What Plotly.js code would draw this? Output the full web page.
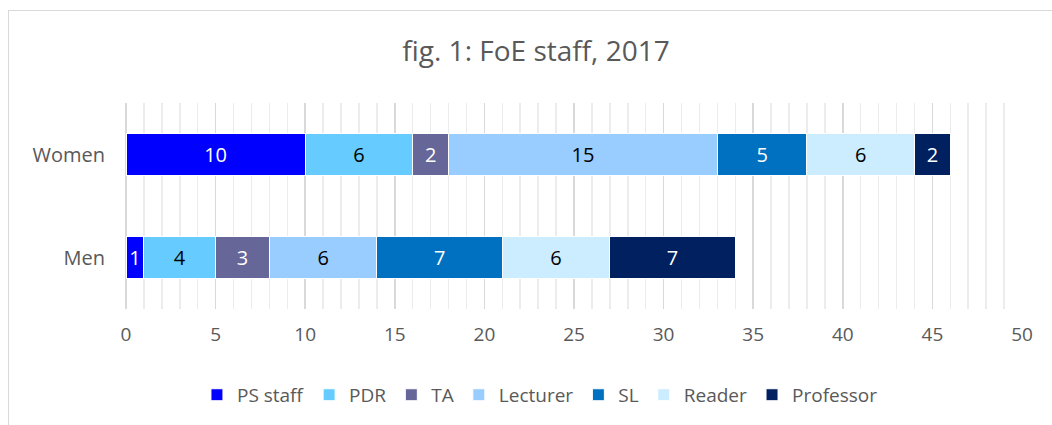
<!DOCTYPE html>
<html>
<head>
<meta charset="utf-8">
<script src="https://cdn.plot.ly/plotly-3.0.1.min.js"></script>
<style>
html,body{margin:0;padding:0;background:#fff;}
#wrap{position:relative;width:1052px;height:425px;overflow:hidden;}
#frame{position:absolute;left:8px;top:10px;width:1100px;height:500px;border-left:1.5px solid #d9d9d9;border-top:1.5px solid #d9d9d9;pointer-events:none;z-index:5;}
#chart{position:absolute;left:0;top:0;width:1052px;height:425px;}
</style>
</head>
<body>
<div id="wrap"><div id="chart"></div><div id="frame"></div></div>
<script>
var categories = ['Women', 'Men'];
var seriesNames = ['PS staff', 'PDR', 'TA', 'Lecturer', 'SL', 'Reader', 'Professor'];
var psStaff   = [10, 1];
var pdr       = [6, 4];
var ta        = [2, 3];
var lecturer  = [15, 6];
var sl        = [5, 7];
var reader    = [6, 6];
var professor = [2, 7];
var colors = ['#0000FF', '#66CCFF', '#666699', '#99CCFF', '#0070C0', '#CCECFF', '#002060'];
var labelColors = ['#ffffff', '#000000', '#ffffff', '#000000', '#ffffff', '#000000', '#ffffff'];
var xTicks = [0, 5, 10, 15, 20, 25, 30, 35, 40, 45, 50];

var allValues = [psStaff, pdr, ta, lecturer, sl, reader, professor];
var fontFam = '"Open Sans", "Noto Sans", sans-serif';

var traces = allValues.map(function (vals, i) {
  return {
    type: 'bar',
    orientation: 'h',
    name: seriesNames[i],
    x: vals,
    y: categories,
    width: 0.4,
    marker: {color: colors[i], line: {color: '#ffffff', width: 1}},
    text: vals.map(String),
    textposition: 'inside',
    insidetextanchor: 'middle',
    textangle: 0,
    constraintext: 'none',
    textfont: {family: fontFam, size: 20, color: labelColors[i]},
    hoverinfo: 'x+name'
  };
});

var layout = {
  width: 1052,
  height: 425,
  barmode: 'stack',
  paper_bgcolor: '#ffffff',
  plot_bgcolor: '#ffffff',
  margin: {l: 126, r: 30, t: 103, b: 115},
  title: {
    text: 'fig. 1: FoE staff, 2017',
    font: {family: fontFam, size: 28, color: '#595959'},
    x: 0.5095, xref: 'container', xanchor: 'center',
    y: 52, yref: 'container', yanchor: 'middle'
  },
  xaxis: {
    range: [0, 50],
    tickvals: xTicks,
    ticktext: xTicks.map(String),
    showgrid: true,
    gridcolor: '#d9d9d9',
    gridwidth: 1.5,
    zeroline: true,
    zerolinecolor: '#d9d9d9',
    zerolinewidth: 1.5,
    showline: false,
    ticks: '',
    ticklabelstandoff: 12,
    tickfont: {family: fontFam, size: 19, color: '#595959'},
    minor: {dtick: 1, showgrid: true, gridcolor: '#ececec', gridwidth: 1.5},
    fixedrange: true
  },
  yaxis: {
    type: 'category',
    categoryorder: 'array',
    categoryarray: ['Men', 'Women'],
    range: [-0.5, 1.5],
    showgrid: false,
    zeroline: false,
    showline: false,
    ticks: '',
    ticklabelstandoff: 20,
    tickfont: {family: fontFam, size: 20, color: '#595959'},
    fixedrange: true
  },
  legend: {
    orientation: 'h',
    x: 0.462, xanchor: 'center',
    y: -0.41, yanchor: 'middle',
    font: {family: fontFam, size: 19, color: '#595959'},
    traceorder: 'normal',
    itemwidth: 30
  },
  showlegend: true
};

Plotly.newPlot('chart', traces, layout, {displayModeBar: false, staticPlot: true});
</script>
</body>
</html>
